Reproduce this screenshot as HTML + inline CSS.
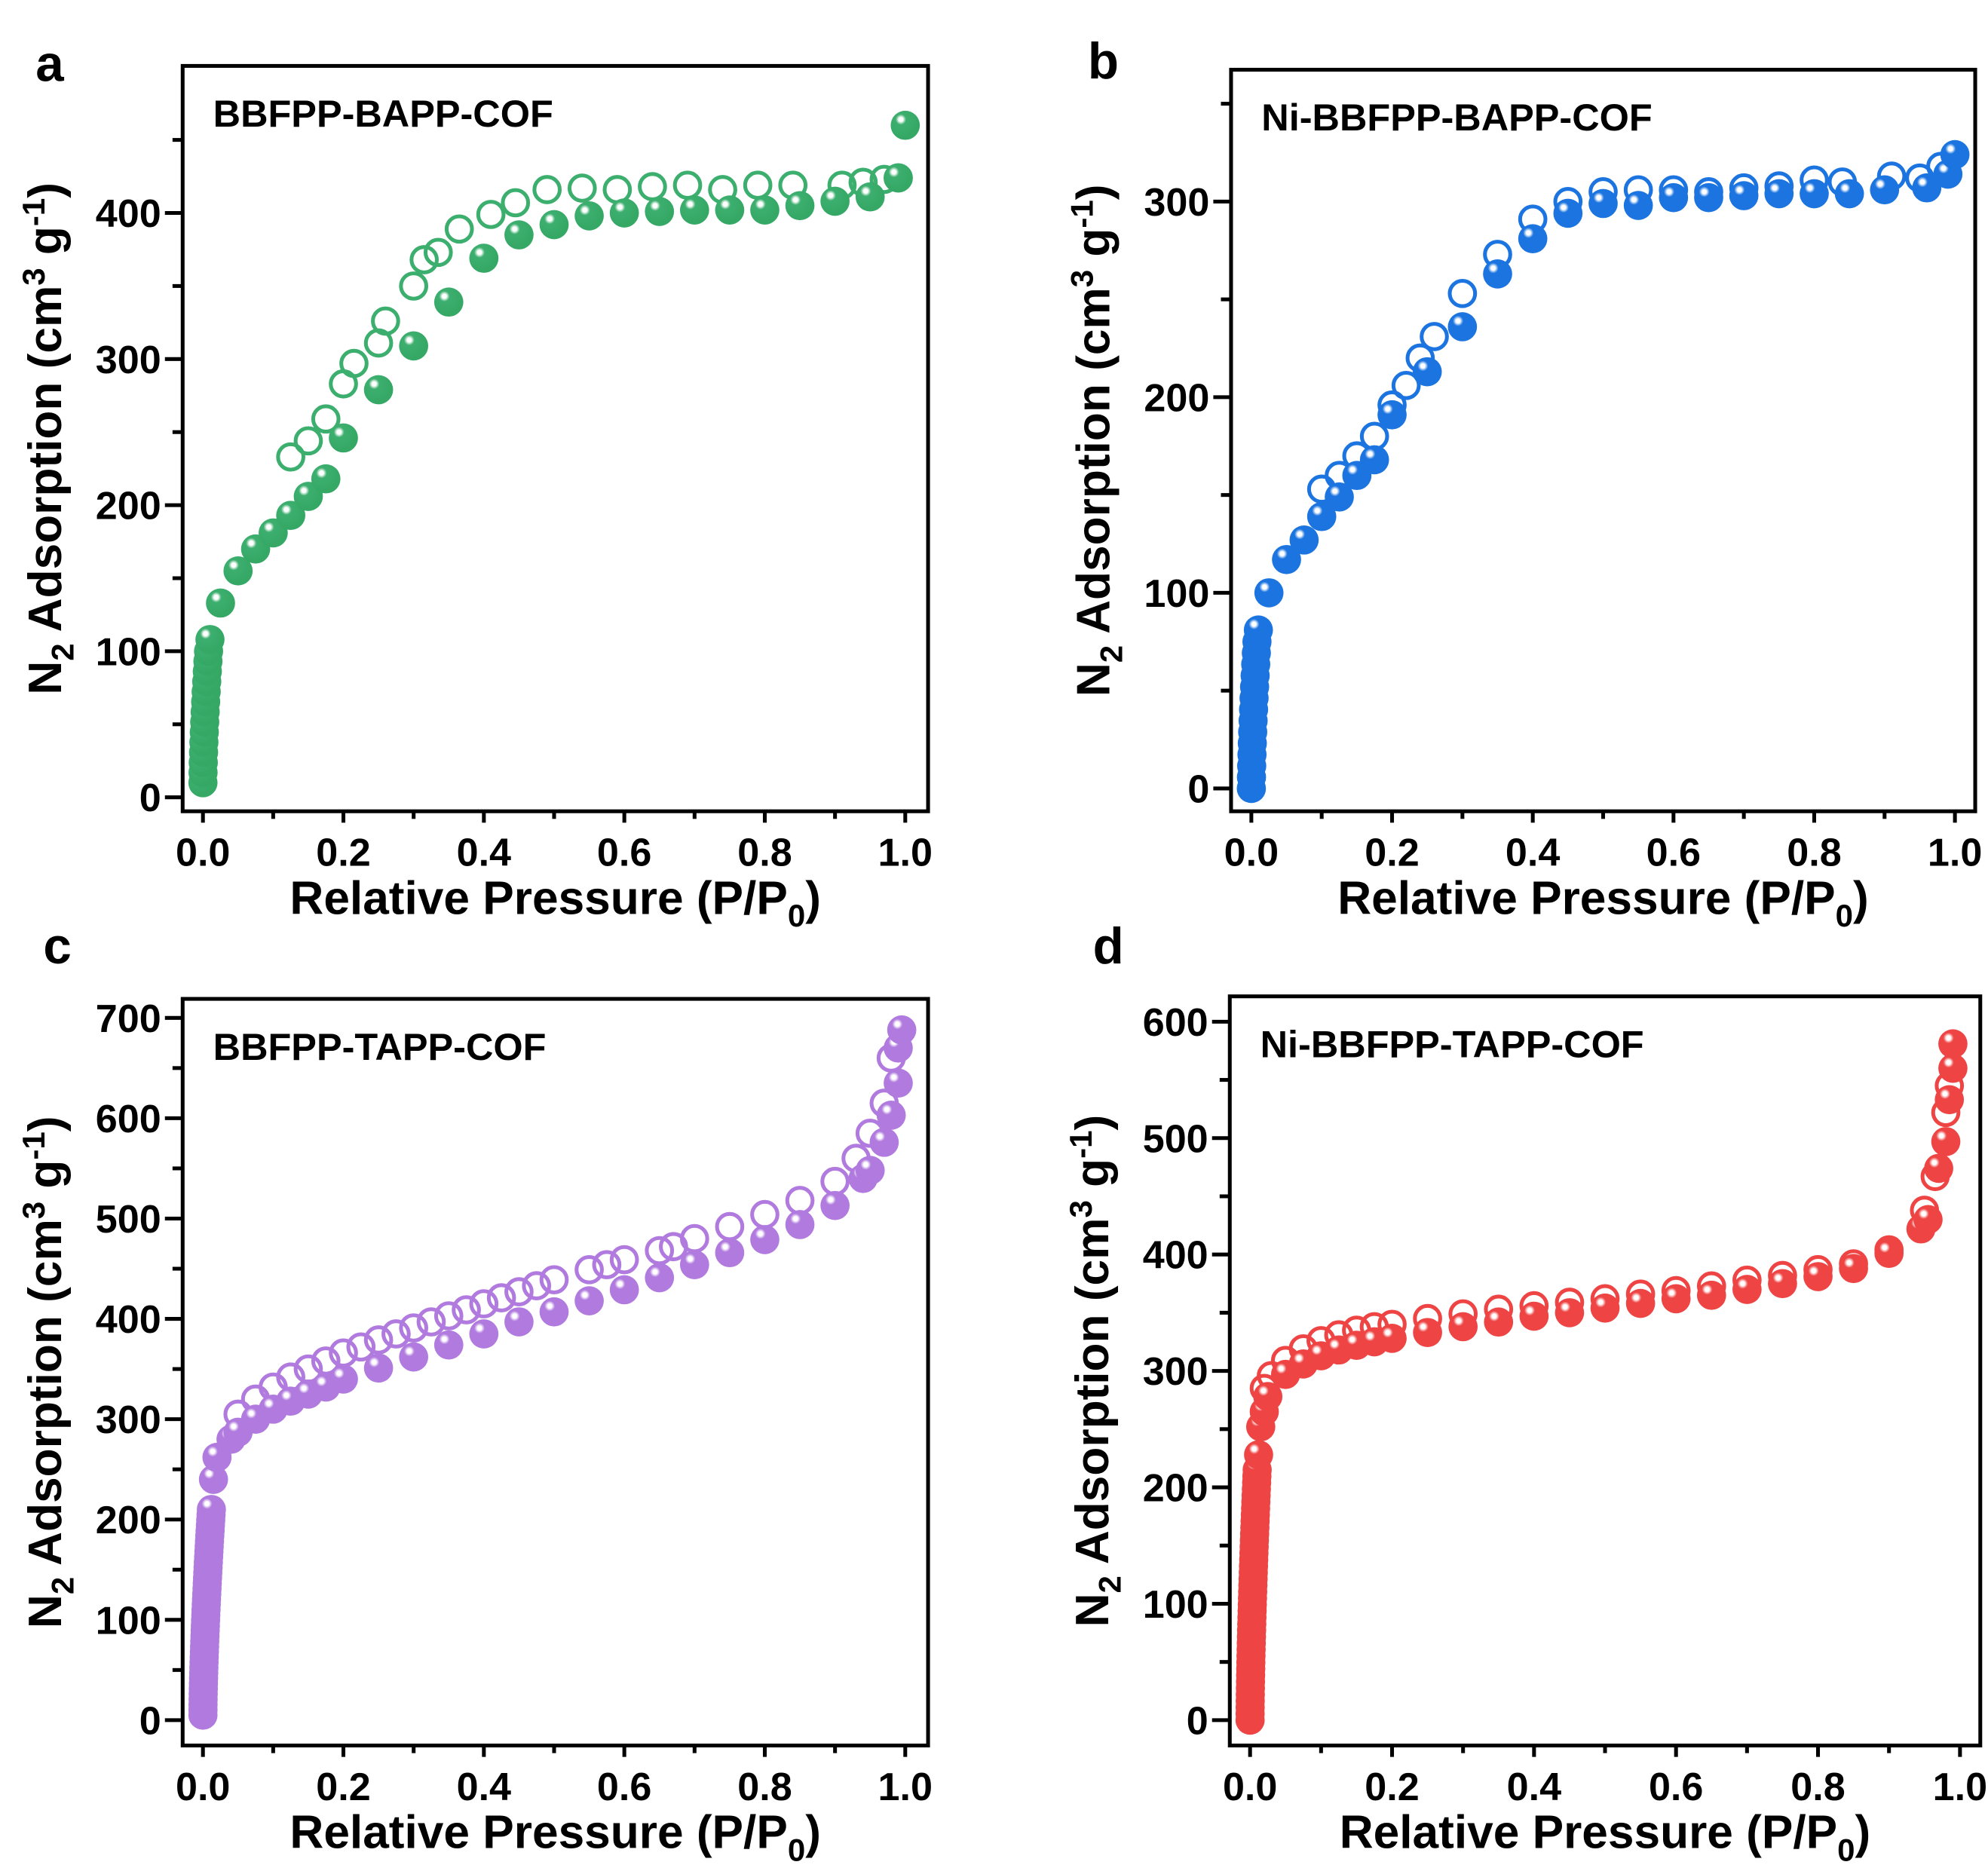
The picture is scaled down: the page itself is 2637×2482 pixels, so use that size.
<!DOCTYPE html>
<html><head><meta charset="utf-8"><style>html,body{margin:0;padding:0;background:#fff}svg{display:block}</style></head>
<body>
<svg id="s" xmlns="http://www.w3.org/2000/svg" width="2637" height="2482" viewBox="0 0 1568 1476" font-family="Liberation Sans, Arial, sans-serif" font-weight="bold">
<defs>
<radialGradient id="gg" cx="0.35" cy="0.3" r="0.6"><stop offset="0" stop-color="#fff"/><stop offset="0.12" stop-color="#fff"/><stop offset="0.3" stop-color="#3cae6e"/><stop offset="1" stop-color="#36a866"/></radialGradient>
<radialGradient id="gb" cx="0.35" cy="0.3" r="0.6"><stop offset="0" stop-color="#fff"/><stop offset="0.12" stop-color="#fff"/><stop offset="0.3" stop-color="#1b74df"/><stop offset="1" stop-color="#1b74df"/></radialGradient>
<radialGradient id="gp" cx="0.35" cy="0.3" r="0.6"><stop offset="0" stop-color="#fff"/><stop offset="0.12" stop-color="#fff"/><stop offset="0.3" stop-color="#b07ade"/><stop offset="1" stop-color="#b07ade"/></radialGradient>
<radialGradient id="gr" cx="0.35" cy="0.3" r="0.6"><stop offset="0" stop-color="#fff"/><stop offset="0.12" stop-color="#fff"/><stop offset="0.3" stop-color="#ee4444"/><stop offset="1" stop-color="#ee4444"/></radialGradient>
</defs>
<g id="g"></g>
</svg>
<script>
var out='';
function P(o){
 var X=function(v){return o.x0+(o.x1-o.x0)*v;};
 var Y=function(v){return o.y0-(o.y0-o.yt)*v/o.ymaxTick;};
 out+='<rect x="'+o.L+'" y="'+o.T+'" width="'+(o.R-o.L)+'" height="'+(o.B-o.T)+'" fill="none" stroke="#000" stroke-width="3"/>';
 for(var i=0;i<=10;i++){var v=i/10,x=X(v),len=(i%2==0)?9:6;
  out+='<line x1="'+x+'" y1="'+o.B+'" x2="'+x+'" y2="'+(o.B+len)+'" stroke="#000" stroke-width="3"/>';
  if(i%2==0) out+='<text x="'+x+'" y="'+(o.B+43)+'" font-size="31" text-anchor="middle">'+v.toFixed(1)+'</text>';}
 for(var v=0;v<=o.ymaxMinor;v+=o.minor){var y=Y(v),maj=(Math.round(v/o.minor)%2==0);
  out+='<line x1="'+(o.L-(maj?14:8))+'" y1="'+y+'" x2="'+o.L+'" y2="'+y+'" stroke="#000" stroke-width="3"/>';
  if(maj&&v<=o.ymaxTick) out+='<text x="'+(o.L-17)+'" y="'+(y+11)+'" font-size="31" text-anchor="end">'+v+'</text>';}
 var cx=(o.L+o.R)/2;
 out+='<text x="'+cx+'" y="'+(o.B+81)+'" font-size="37" text-anchor="middle">Relative Pressure (P/P<tspan font-size="25" dy="10">0</tspan><tspan dy="-10">)</tspan></text>';
 var cy=(o.T+o.B)/2;
 out+='<text transform="translate('+(o.L-96)+','+cy+') rotate(-90)" font-size="37" text-anchor="middle">N<tspan font-size="25" dy="10">2</tspan><tspan dy="-10"> Adsorption (cm</tspan><tspan font-size="25" dy="-13">3</tspan><tspan dy="13"> g</tspan><tspan font-size="25" dy="-13">-1</tspan><tspan dy="13">)</tspan></text>';
 out+='<text x="'+o.lx+'" y="'+o.ly+'" font-size="40">'+o.letter+'</text>';
 out+='<text x="'+(o.L+24)+'" y="'+(o.T+48)+'" font-size="30">'+o.name+'</text>';
 o.des.forEach(function(p){out+='<circle cx="'+X(p[0])+'" cy="'+Y(p[1])+'" r="10" fill="none" stroke="'+o.c+'" stroke-width="3"/>';});
 o.ads.forEach(function(p){out+='<circle cx="'+X(p[0])+'" cy="'+Y(p[1])+'" r="11.5" fill="url(#'+o.gid+')"/>';});
}
function low(xmax,ymin,ymax,n){var a=[];for(var i=0;i<n;i++){var t=i/(n-1);a.push([xmax*Math.pow(t,1.5),ymin+(ymax-ymin)*t]);}return a;}
P({L:144,R:732,T:52,B:640,x0:160,x1:714,y0:629,yt:168,ymaxTick:400,ymaxMinor:450,minor:50,c:'#3cae6e',gid:'gg',letter:'a',lx:28,ly:64,name:'BBFPP-BAPP-COF',
 ads:low(0.008,10,100,14).concat([[0.01,108],[0.025,133],[0.05,155],[0.075,170],[0.1,181],[0.125,193],[0.15,206],[0.175,218],[0.2,246],[0.25,279],[0.3,309],[0.35,339],[0.4,369],[0.45,385],[0.5,392],[0.55,398],[0.6,400],[0.65,401],[0.7,402],[0.75,402],[0.8,402],[0.85,405],[0.9,408],[0.95,411],[0.99,424],[1.0,460]]),
 des:[[0.99,424],[0.97,423],[0.94,421],[0.91,419],[0.84,419],[0.79,419],[0.74,416],[0.69,419],[0.64,418],[0.59,416],[0.54,417],[0.49,416],[0.445,407],[0.41,399],[0.365,389],[0.335,373],[0.315,368],[0.3,350],[0.26,326],[0.25,311],[0.215,297],[0.2,283],[0.175,259],[0.15,244],[0.125,233]]});
P({L:971,R:1558,T:55,B:640,x0:987,x1:1542,y0:622,yt:159,ymaxTick:300,ymaxMinor:350,minor:50,c:'#1b74df',gid:'gb',letter:'b',lx:858,ly:62,name:'Ni-BBFPP-BAPP-COF',
 ads:low(0.008,0,75,14).concat([[0.01,81],[0.025,100],[0.05,117],[0.075,127],[0.1,139],[0.125,149],[0.15,160],[0.175,168],[0.2,191],[0.25,213],[0.3,236],[0.35,263],[0.4,281],[0.45,294],[0.5,299],[0.55,298],[0.6,302],[0.65,302],[0.7,303],[0.75,304],[0.8,304],[0.85,304],[0.9,306],[0.96,307],[0.99,314],[1.0,324]]),
 des:[[0.98,318],[0.95,312],[0.91,313],[0.84,310],[0.8,311],[0.75,308],[0.7,307],[0.65,305],[0.6,306],[0.55,306],[0.5,305],[0.45,300],[0.4,291],[0.35,273],[0.3,253],[0.26,231],[0.24,220],[0.22,206],[0.2,196],[0.175,180],[0.15,170],[0.125,160],[0.1,153]]});
P({L:144,R:732,T:788,B:1377,x0:160,x1:714,y0:1357,yt:803,ymaxTick:700,ymaxMinor:700,minor:50,c:'#b07ade',gid:'gp',letter:'c',lx:34,ly:760,name:'BBFPP-TAPP-COF',
 ads:low(0.012,5,210,40).concat([[0.015,240],[0.02,262],[0.04,280],[0.05,287],[0.075,300],[0.1,310],[0.125,318],[0.15,325],[0.175,332],[0.2,340],[0.25,351],[0.3,362],[0.35,374],[0.4,385],[0.45,397],[0.5,407],[0.55,418],[0.6,429],[0.65,441],[0.7,454],[0.75,466],[0.8,479],[0.85,494],[0.9,513],[0.94,540],[0.95,548],[0.97,576],[0.98,603],[0.99,635],[0.99,670],[0.995,688]]),
 des:[[0.98,660],[0.97,615],[0.95,585],[0.93,560],[0.9,537],[0.85,518],[0.8,504],[0.75,492],[0.7,480],[0.67,472],[0.65,468],[0.6,459],[0.575,454],[0.55,449],[0.5,439],[0.475,433],[0.45,427],[0.425,421],[0.4,415],[0.375,409],[0.35,403],[0.325,397],[0.3,391],[0.275,385],[0.25,379],[0.225,372],[0.2,366],[0.175,358],[0.15,350],[0.125,342],[0.1,332],[0.075,320],[0.05,305]]});
P({L:970,R:1562,T:786,B:1377,x0:986,x1:1546,y0:1357,yt:806,ymaxTick:600,ymaxMinor:600,minor:50,c:'#ee4444',gid:'gr',letter:'d',lx:862,ly:760,name:'Ni-BBFPP-TAPP-COF',
 ads:low(0.01,0,215,40).concat([[0.012,228],[0.015,252],[0.02,265],[0.025,278],[0.05,297],[0.075,306],[0.1,313],[0.125,318],[0.15,322],[0.175,325],[0.2,328],[0.25,333],[0.3,338],[0.35,342],[0.4,347],[0.45,350],[0.5,354],[0.55,358],[0.6,362],[0.65,365],[0.7,370],[0.75,375],[0.8,381],[0.85,388],[0.9,401],[0.945,422],[0.955,430],[0.97,474],[0.98,497],[0.985,533],[0.99,560],[0.99,581]]),
 des:[[0.985,545],[0.98,522],[0.965,467],[0.95,438],[0.9,404],[0.85,392],[0.8,387],[0.75,382],[0.7,378],[0.65,373],[0.6,369],[0.55,366],[0.5,362],[0.45,359],[0.4,356],[0.35,353],[0.3,349],[0.25,345],[0.2,340],[0.175,338],[0.15,335],[0.125,331],[0.1,326],[0.075,319],[0.05,309],[0.03,296],[0.02,285]]});
document.getElementById('g').innerHTML=out;
</script>
</body></html>
